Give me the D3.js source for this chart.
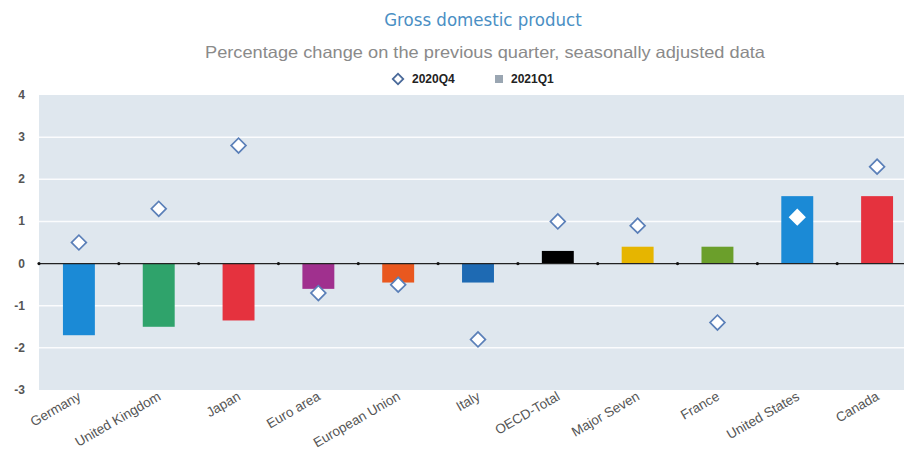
<!DOCTYPE html>
<html>
<head>
<meta charset="utf-8">
<script src="https://cdn.jsdelivr.net/npm/d3@7"></script>
<style>
  body { margin: 0; background: #fff; }
  svg { display: block; }
</style>
</head>
<body>
<div id="chart"></div>
<script>
// data
const countries = ["Germany", "United Kingdom", "Japan", "Euro area", "European Union",
  "Italy", "OECD-Total", "Major Seven", "France", "United States", "Canada"];
const q2021Q1 = [-1.7, -1.5, -1.35, -0.6, -0.45, -0.45, 0.3, 0.4, 0.4, 1.6, 1.6];
const q2020Q4 = [0.5, 1.3, 2.8, -0.7, -0.5, -1.8, 1.0, 0.9, -1.4, 1.1, 2.3];
const barColors = ["#1b8ad6", "#2fa36b", "#e5323e", "#a0308e", "#e9581f", "#1e6ab3",
  "#000000", "#e6b500", "#6b9f2b", "#1b8ad6", "#e5323e"];
const yTicks = [-3, -2, -1, 0, 1, 2, 3, 4];

const W = 904, H = 452;
const svg = d3.select("#chart").append("svg")
  .attr("width", W)
  .attr("height", H);

const x = d3.scaleBand()
  .domain(countries)
  .range([39, 917]);

const y = d3.scaleLinear()
  .domain([-3, 4])
  .range([390, 95]);

// plot background
svg.append("rect")
  .attr("x", x.range()[0])
  .attr("y", y(4))
  .attr("width", x.range()[1] - x.range()[0])
  .attr("height", y(-3) - y(4))
  .attr("fill", "#dfe7ee");

// gridlines
svg.append("g").selectAll("line")
  .data(yTicks.filter(d => d > -3 && d < 4 && d != 0))
  .join("line")
  .attr("x1", x.range()[0])
  .attr("x2", x.range()[1])
  .attr("y1", d => y(d))
  .attr("y2", d => y(d))
  .attr("stroke", "#fbfcfd")
  .attr("stroke-width", 1.5);

// y labels
svg.append("g").selectAll("text")
  .data(yTicks)
  .join("text")
  .attr("x", 25)
  .attr("y", d => y(d) + 4)
  .attr("text-anchor", "end")
  .attr("font-family", "Liberation Sans, Arial, sans-serif")
  .attr("font-size", 12)
  .attr("font-weight", "bold")
  .attr("fill", "#555")
  .text(d => d);

// bars (2021Q1)
const bw = x.bandwidth() * 0.4;
svg.append("g").selectAll("rect")
  .data(countries)
  .join("rect")
  .attr("x", d => x(d) + (x.bandwidth() - bw) / 2)
  .attr("y", (d, i) => y(Math.max(0, q2021Q1[i])))
  .attr("width", bw)
  .attr("height", (d, i) => Math.abs(y(q2021Q1[i]) - y(0)))
  .attr("fill", (d, i) => barColors[i]);

// zero line with tick dots
svg.append("line")
  .attr("x1", x.range()[0])
  .attr("x2", x.range()[1])
  .attr("y1", y(0))
  .attr("y2", y(0))
  .attr("stroke", "#222")
  .attr("stroke-width", 1.2);

svg.append("g").selectAll("circle")
  .data(countries)
  .join("circle")
  .attr("cx", d => x(d))
  .attr("cy", y(0))
  .attr("r", 1.6)
  .attr("fill", "#111");

// diamonds (2020Q4)
const diamond = d3.symbol().type(d3.symbolSquare).size(110);
svg.append("g").selectAll("path")
  .data(countries)
  .join("path")
  .attr("d", diamond)
  .attr("transform", (d, i) => `translate(${x(d) + x.bandwidth() / 2},${y(q2020Q4[i])}) rotate(45)`)
  .attr("fill", "#fff")
  .attr("stroke", d => d == "United States" ? "#fff" : "#5a7fb8")
  .attr("stroke-width", 1.7);

// x labels
svg.append("g").selectAll("text")
  .data(countries)
  .join("text")
  .attr("transform", d => `translate(${x(d) + x.bandwidth() / 2 + 3},${y(-3) + 9}) rotate(-30)`)
  .attr("text-anchor", "end")
  .attr("font-family", "Liberation Sans, Arial, sans-serif")
  .attr("font-size", 13.5)
  .attr("fill", "#555")
  .text(d => d);

// titles
svg.append("text")
  .attr("x", 483)
  .attr("y", 26)
  .attr("text-anchor", "middle")
  .attr("font-family", "DejaVu Sans Condensed, Liberation Sans Narrow, sans-serif")
  .attr("font-size", 18.5)
  .attr("fill", "#4a8fc4")
  .text("Gross domestic product");

svg.append("text")
  .attr("x", 485)
  .attr("y", 58)
  .attr("text-anchor", "middle")
  .attr("font-family", "Liberation Sans, Arial, sans-serif")
  .attr("font-size", 16.5)
  .attr("textLength", 560)
  .attr("lengthAdjust", "spacingAndGlyphs")
  .attr("fill", "#8a8a8a")
  .text("Percentage change on the previous quarter, seasonally adjusted data");

// legend
const lg = svg.append("g");
lg.append("path")
  .attr("d", d3.symbol().type(d3.symbolSquare).size(55))
  .attr("transform", "translate(398,79) rotate(45)")
  .attr("fill", "#fff")
  .attr("stroke", "#4a6a9a")
  .attr("stroke-width", 1.8);
lg.append("text")
  .attr("x", 412)
  .attr("y", 83)
  .attr("font-family", "Liberation Sans, Arial, sans-serif")
  .attr("font-size", 12)
  .attr("font-weight", "bold")
  .attr("fill", "#222")
  .text("2020Q4");
lg.append("rect")
  .attr("x", 495)
  .attr("y", 75)
  .attr("width", 8)
  .attr("height", 8)
  .attr("fill", "#9aa6b2");
lg.append("text")
  .attr("x", 511)
  .attr("y", 83)
  .attr("font-family", "Liberation Sans, Arial, sans-serif")
  .attr("font-size", 12)
  .attr("font-weight", "bold")
  .attr("fill", "#222")
  .text("2021Q1");
</script>
</body>
</html>
